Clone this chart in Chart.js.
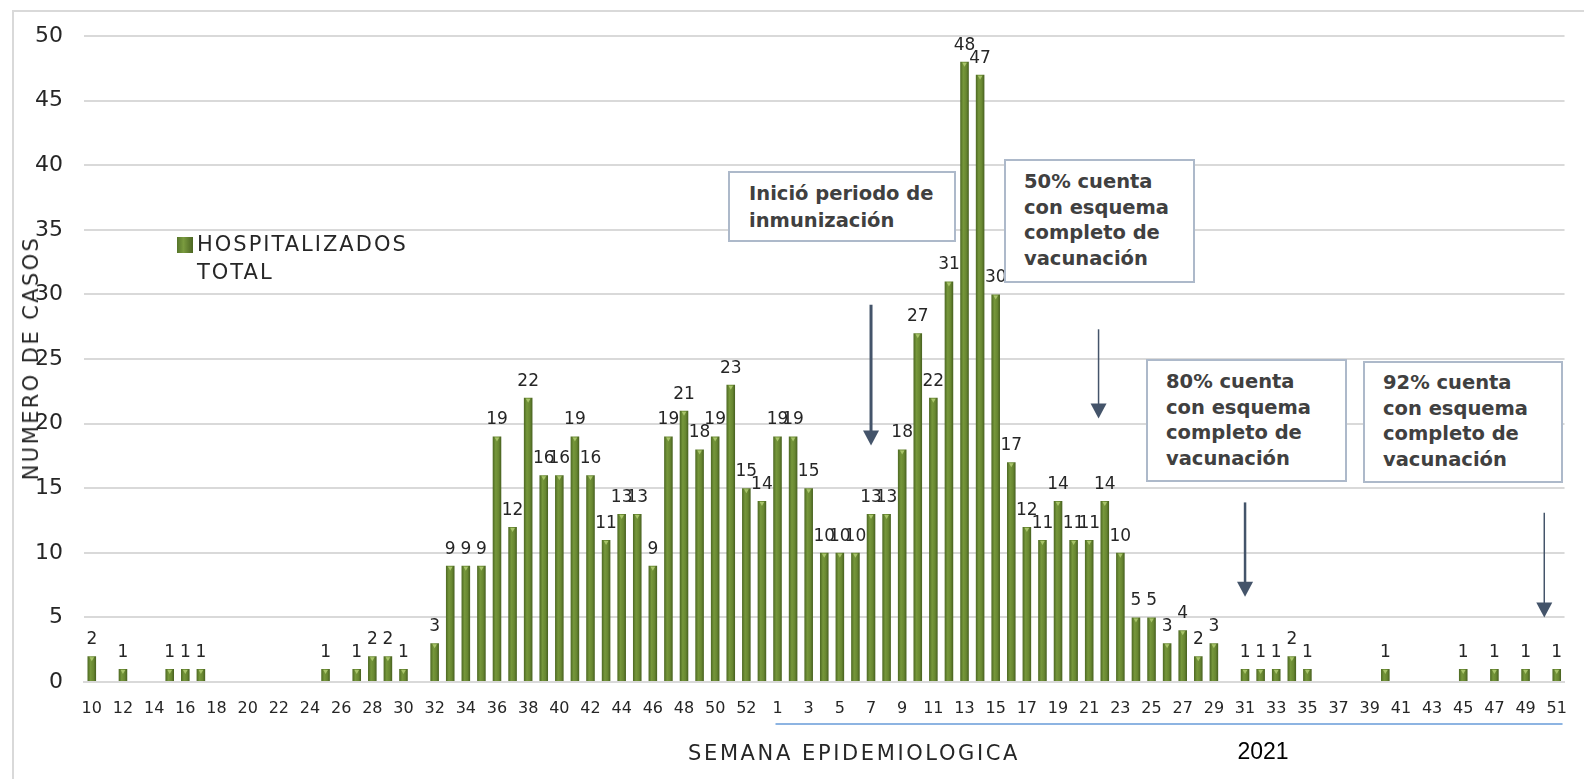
<!DOCTYPE html>
<html>
<head>
<meta charset="utf-8">
<script src="https://cdn.jsdelivr.net/npm/chart.js@4.4.1/dist/chart.umd.min.js"></script>
<style>
  body { margin: 0; background: #fff; overflow: hidden; font-family: 'DejaVu Sans', sans-serif; }
  #wrap { position: relative; width: 1584px; height: 779px; }
  #frame { position: absolute; left: 12px; top: 10px; width: 1600px; height: 800px; border: 2px solid #d9d9d9; box-sizing: border-box; }
  #myChart { position: absolute; left: 0; top: 0; }
  .note { position: absolute; background: #fff; border: 2px solid #adb9ca; box-sizing: border-box;
          font-weight: bold; color: #404040; font-size: 19.5px; line-height: 25.7px; z-index: 2; white-space: nowrap; }
  .txt { position: absolute; color: #262626; white-space: nowrap; z-index: 2; }
  #legend { left: 177px; top: 230px; font-size: 21px; line-height: 28px; letter-spacing: 2px; }
  #legend .sw { position: absolute; left: 0; top: 7px; width: 16px; height: 16px;
                background: linear-gradient(90deg, #56752a, #7a9b3f 40%, #4b6522); }
  #legend .lb { position: absolute; left: 20px; top: 0; }
</style>
</head>
<body>
<div id="wrap">
  <div id="frame"></div>
  <canvas id="myChart" width="1584" height="779"></canvas>

  <div class="txt" id="legend"><div class="sw"></div><div class="lb">HOSPITALIZADOS<br>TOTAL</div></div>

  <div class="note" style="left:728px;top:171px;width:228px;height:71px;padding:7px 0 0 19px;line-height:27px;">Inició periodo de<br>inmunización</div>
  <div class="note" style="left:1004px;top:159px;width:191px;height:124px;padding:8px 0 0 18px;">50% cuenta<br>con esquema<br>completo de<br>vacunación</div>
  <div class="note" style="left:1146px;top:359px;width:201px;height:123px;padding:8px 0 0 18px;">80% cuenta<br>con esquema<br>completo de<br>vacunación</div>
  <div class="note" style="left:1363px;top:361px;width:200px;height:122px;padding:7px 0 0 18px;">92% cuenta<br>con esquema<br>completo de<br>vacunación</div>

  <div class="txt" style="left:854px;top:753px;transform:translate(-50%,-50%);font-size:21px;letter-spacing:2.6px;">SEMANA EPIDEMIOLOGICA</div>
  <div class="txt" style="left:1263px;top:751px;transform:translate(-50%,-50%);font-size:23px;color:#000;font-family:'Liberation Sans',sans-serif;">2021</div>
  <div class="txt" style="left:31px;top:358px;transform:translate(-50%,-50%) rotate(-90deg);font-size:21px;letter-spacing:2.4px;">NUMERO DE CASOS</div>
</div>

<script>
// semanas epidemiologicas: 2020 (10-53) y 2021 (1-51)
const weeks2020 = [10,11,12,13,14,15,16,17,18,19,20,21,22,23,24,25,26,27,28,29,30,31,
                   32,33,34,35,36,37,38,39,40,41,42,43,44,45,46,47,48,49,50,51,52,53];
const weeks2021 = [1,2,3,4,5,6,7,8,9,10,11,12,13,14,15,16,17,18,19,20,21,22,23,24,25,
                   26,27,28,29,30,31,32,33,34,35,36,37,38,39,40,41,42,43,44,45,46,47,48,49,50,51];

const hosp2020 = [2,0,1,0,0,1,1,1,0,0,0,0,0,0,0,1,0,1,2,2,1,0,
                  3,9,9,9,19,12,22,16,16,19,16,11,13,13,9,19,21,18,19,23,15,14];
const hosp2021 = [19,19,15,10,10,10,13,13,18,27,22,31,48,47,30,17,12,11,14,11,11,14,10,5,5,
                  3,4,2,3,0,1,1,1,2,1,0,0,0,0,1,0,0,0,0,1,0,1,0,1,0,1];

const yTicks = [0,5,10,15,20,25,30,35,40,45,50];

// flechas: posicion en indice de categoria, valor inicio y fin
const arrows = [
  { pos: 50.0, from: 29.2, to: 18.3, w: 3 },
  { pos: 64.6, from: 27.3, to: 20.4, w: 1.5 },
  { pos: 74.0, from: 13.9, to: 6.6, w: 2.5 },
  { pos: 93.2, from: 13.1, to: 5.0, w: 1.5 }
];

const labels = weeks2020.concat(weeks2021).map(String);
const values = hosp2020.concat(hosp2021);
const start2021 = weeks2020.length;

const ctx = document.getElementById('myChart');

function barGradient(context) {
  const chart = context.chart;
  const xs = chart.scales.x;
  if (!xs || !chart.chartArea) return '#6b8a33';
  const x = xs.getPixelForValue(context.dataIndex);
  const w = (xs.width / labels.length) * 0.55;
  const g = chart.ctx.createLinearGradient(x - w / 2, 0, x + w / 2, 0);
  g.addColorStop(0, '#4c6822');
  g.addColorStop(0.35, '#76973b');
  g.addColorStop(0.7, '#688731');
  g.addColorStop(1, '#465f1f');
  return g;
}

const extras = {
  id: 'extras',
  afterDatasetsDraw(chart) {
    const c = chart.ctx;
    const meta = chart.getDatasetMeta(0);
    const xs = chart.scales.x, ys = chart.scales.y;
    c.save();
    // triangulito claro arriba de cada barra
    meta.data.forEach((bar, i) => {
      if (!values[i]) return;
      const hw = bar.width / 2 - 2;
      c.fillStyle = '#a8c46a';
      c.beginPath();
      c.moveTo(bar.x - hw, bar.y + 1);
      c.lineTo(bar.x + hw, bar.y + 1);
      c.lineTo(bar.x, bar.y + 5);
      c.closePath();
      c.fill();
    });
    // etiquetas de datos
    c.font = '17px "DejaVu Sans"';
    c.fillStyle = '#262626';
    c.textAlign = 'center';
    c.textBaseline = 'bottom';
    meta.data.forEach((bar, i) => {
      if (!values[i]) return;
      c.fillText(String(values[i]), bar.x, bar.y - 8);
    });
    // flechas
    c.strokeStyle = '#44546a';
    c.fillStyle = '#44546a';
    arrows.forEach(a => {
      const x = xs.getPixelForValue(a.pos);
      const y1 = ys.getPixelForValue(a.from);
      const y2 = ys.getPixelForValue(a.to);
      c.lineWidth = a.w;
      c.beginPath();
      c.moveTo(x, y1);
      c.lineTo(x, y2 - 12);
      c.stroke();
      c.beginPath();
      c.moveTo(x - 8, y2 - 15);
      c.lineTo(x + 8, y2 - 15);
      c.lineTo(x, y2);
      c.closePath();
      c.fill();
    });
    // linea azul bajo las semanas 2021
    c.strokeStyle = '#8db4e2';
    c.lineWidth = 2;
    c.beginPath();
    c.moveTo(xs.getPixelForValue(start2021) - 2, chart.chartArea.bottom + 42);
    c.lineTo(chart.chartArea.right - 2, chart.chartArea.bottom + 42);
    c.stroke();
    c.restore();
  }
};

let myChart = new Chart(ctx, {
  type: 'bar',
  data: {
    labels: labels,
    datasets: [{
      label: 'HOSPITALIZADOS TOTAL',
      data: values,
      backgroundColor: barGradient,
      borderWidth: 0,
      barPercentage: 0.55,
      categoryPercentage: 1
    }]
  },
  options: {
    responsive: false,
    animation: false,
    layout: { padding: { left: 0, right: 15, top: 36, bottom: 0 } },
    plugins: {
      legend: { display: false },
      tooltip: { enabled: false }
    },
    scales: {
      x: {
        grid: { display: false, drawTicks: false },
        border: { color: '#d9d9d9', width: 2 },
        afterFit: s => { s.height = 779 - 36 - 646; },
        ticks: {
          autoSkip: false,
          maxRotation: 0,
          padding: 17,
          color: '#262626',
          font: { size: 16, family: 'DejaVu Sans' },
          callback: function (val, index) {
            return index % 2 === 0 ? this.getLabelForValue(val) : '';
          }
        }
      },
      y: {
        min: 0,
        max: 50,
        afterFit: s => { s.width = 84; },
        afterBuildTicks: s => { s.ticks = yTicks.map(v => ({ value: v })); },
        border: { display: false },
        grid: { color: '#d9d9d9', lineWidth: 2, drawTicks: false },
        ticks: {
          padding: 21,
          color: '#262626',
          font: { size: 22, family: 'DejaVu Sans' }
        }
      }
    }
  },
  plugins: [extras]
});
</script>
</body>
</html>
